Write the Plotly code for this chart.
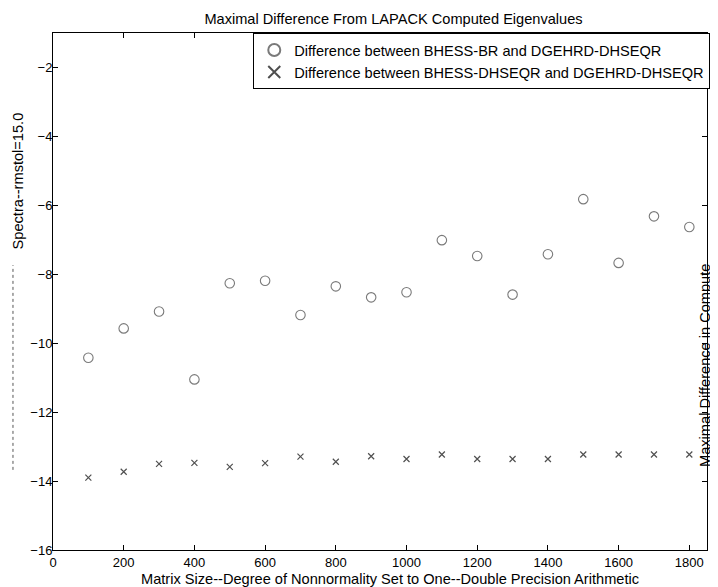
import plotly.graph_objects as go

matrix_size = [100, 200, 300, 400, 500, 600, 700, 800, 900, 1000,
               1100, 1200, 1300, 1400, 1500, 1600, 1700, 1800]
diff_br = [-10.42, -9.57, -9.08, -11.05, -8.26, -8.19, -9.18, -8.35, -8.67, -8.52,
           -7.01, -7.47, -8.59, -7.42, -5.82, -7.67, -6.32, -6.63]
diff_dhseqr = [-13.90, -13.73, -13.50, -13.47, -13.59, -13.48, -13.29, -13.44, -13.28, -13.36,
               -13.23, -13.36, -13.36, -13.36, -13.23, -13.23, -13.23, -13.23]

x_ticks = [0, 200, 400, 600, 800, 1000, 1200, 1400, 1600, 1800]
y_ticks = [-16, -14, -12, -10, -8, -6, -4, -2]

FONT = "Liberation Sans, Arial, sans-serif"
LBL = 14.6

fig = go.Figure()
fig.add_trace(go.Scatter(
    x=matrix_size, y=diff_br, mode="markers",
    name="Difference between BHESS-BR and DGEHRD-DHSEQR",
    marker=dict(symbol="circle-open", size=9.5, color="#7a7a7a", line=dict(width=1.1)),
))
fig.add_trace(go.Scatter(
    x=matrix_size, y=diff_dhseqr, mode="markers",
    name="Difference between BHESS-DHSEQR and DGEHRD-DHSEQR",
    marker=dict(symbol="x-thin-open", size=6, color="#505050", line=dict(width=1.2)),
))

axis_common = dict(
    showgrid=False, zeroline=False, showline=True, linecolor="black", linewidth=1,
    mirror="ticks", ticks="inside", ticklen=5, tickcolor="black", automargin=False,
    tickfont=dict(family=FONT, size=13, color="black"),
)

# the page body adds an 8px offset, so the figure is 8px smaller on each side
fig.update_layout(
    width=710, height=579,
    margin=dict(l=45, r=11, t=25, b=37, autoexpand=False),
    paper_bgcolor="white", plot_bgcolor="white",
    font=dict(family=FONT, color="black"),
    title=dict(text="Maximal Difference From LAPACK Computed Eigenvalues",
               x=0.543, xanchor="center", y=0.982, yanchor="middle",
               font=dict(family=FONT, size=LBL, color="black")),
    xaxis=dict(range=[0, 1850], tickvals=x_ticks, **axis_common),
    yaxis=dict(range=[-16, -1], tickvals=y_ticks, ticklabelstandoff=-3, **axis_common),
    legend=dict(x=1.005, xanchor="right", y=1, yanchor="top",
                bgcolor="white", bordercolor="black", borderwidth=1,
                font=dict(family=FONT, size=LBL, color="black"),
                tracegroupgap=0, itemsizing="constant"),
    showlegend=True,
)

fig.add_annotation(text="Matrix Size--Degree of Nonnormality Set to One--Double Precision Arithmetic",
                   showarrow=False, xref="paper", yref="paper", x=0.515, y=-0.056,
                   xanchor="center", yanchor="middle",
                   font=dict(family=FONT, size=LBL, color="black"))
fig.add_annotation(text="Spectra--rmstol=15.0", textangle=-90, showarrow=False,
                   xref="paper", yref="paper", x=-0.0535, y=0.713,
                   xanchor="center", yanchor="middle",
                   font=dict(family=FONT, size=LBL, color="black"))
fig.add_annotation(text="Maximal Difference in Compute", textangle=-90, showarrow=False,
                   xref="paper", yref="paper", x=1.0, xshift=-2, y=0.356,
                   xanchor="center", yanchor="middle",
                   font=dict(family=FONT, size=LBL, color="black"))
fig.add_shape(type="line", xref="paper", yref="paper",
              x0=-0.0612, x1=-0.0612, y0=0.155, y1=0.551,
              line=dict(color="#555555", width=1, dash="dot"))

fig.write_html("out.html")
